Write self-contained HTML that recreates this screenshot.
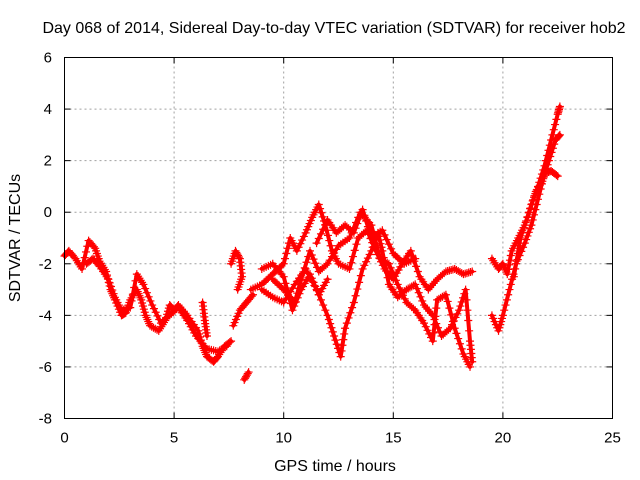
<!DOCTYPE html>
<html><head><meta charset="utf-8"><style>
body{margin:0;background:#fff}
svg{display:block;font-family:"Liberation Sans","DejaVu Sans",sans-serif}
</style></head><body>
<svg id="chart" width="640" height="480" viewBox="0 0 640 480">
<rect x="0" y="0" width="640" height="480" fill="#fff"/>
<text x="334" y="33" font-size="16" text-anchor="middle">Day 068 of 2014, Sidereal Day-to-day VTEC variation (SDTVAR) for receiver hob2</text>
<text x="335" y="471" font-size="16" text-anchor="middle">GPS time / hours</text>
<text transform="translate(20,238) rotate(-90)" font-size="16" text-anchor="middle">SDTVAR / TECUs</text>
<g id="grid"></g><g id="ticks"></g><g id="marks"></g>
<rect x="64.5" y="57.5" width="548" height="361" fill="none" stroke="#000" stroke-width="1"/>
</svg>
<script>
const xTicks=[0,5,10,15,20,25];
const yTicks=[-8,-6,-4,-2,0,2,4,6];
const segT=[
[0,0.2,0.5,0.8,1.1,1.4,1.6,1.9,2.1,2.3,2.6,2.8,3.0,3.3,3.5,3.7,3.9,4.3,4.6,4.8,5.0,5.2,5.6,6.1,6.3,6.5,6.8,7.0,7.3,7.6],
[1.0,1.3,1.6,2.0,2.3,2.6,3.0,3.3,3.6,4.0,4.4,4.8,5.2,5.6,6.0,6.5,7.0,7.4],
[6.3,6.4,6.5],
[7.6,7.8,8.0,8.1,7.9],
[8.2,8.4],
[7.7,8.0,8.3,8.6],
[8.5,9,9.5,10,10.3,10.6,11,11.3,11.6,11.9,12.2,12.5,13,13.4,13.8,14.2,14.6,15,15.4,15.8,16.2,16.6,17,17.4,17.8,18.2,18.6],
[9,9.5,10,10.5,11,11.5,12,12.3,12.6,12.8,13.2,13.6,14,14.3,14.5,14.8,15.2,15.6,16,16.4,16.8,17.2,17.6,18,18.3,18.5,18.6],
[9.5,10,10.5,10.8,11.2,11.6,12,12.5,13,13.5,14,14.4,14.8,15.2,15.6,16,16.4,16.8,17,17.4,17.8,18.2,18.5],
[11.5,12,12.4,12.8,13.2,13.6,14,14.5,15,15.5,16],
[9,9.5,10,10.4,10.8,11.2,11.6,12],
[19.5,19.8,20,20.2,20.4,20.7,21,21.3,21.6,21.9,22.2,22.5,22.6],
[19.5,19.8,20.0,20.3,20.6,21,21.3,21.6,21.9,22.2,22.5],
[20.5,20.8,21.2,21.5,21.8,22.1,22.4,22.6]
];
const segV=[
[-1.7,-1.5,-1.8,-2.2,-1.1,-1.4,-1.9,-2.3,-3.0,-3.4,-4.0,-3.9,-3.4,-3.0,-3.4,-4.0,-4.4,-4.6,-4.2,-3.6,-3.8,-3.6,-4.0,-4.6,-5.2,-5.6,-5.8,-5.6,-5.2,-5.0],
[-2.0,-1.8,-2.1,-2.6,-3.3,-3.8,-3.7,-2.4,-2.8,-3.6,-4.3,-4.0,-3.7,-4.2,-4.8,-5.3,-5.4,-5.2],
[-3.5,-4.2,-4.8],
[-2.0,-1.5,-1.8,-2.5,-3.0],
[-6.5,-6.2],
[-4.4,-3.8,-3.5,-3.2],
[-3.0,-2.8,-2.4,-2.0,-1.0,-1.5,-0.8,-0.2,0.3,-0.5,-1.5,-2.0,-2.2,-1.0,-0.7,-1.5,-2.2,-2.6,-2.0,-1.5,-2.5,-3.0,-2.6,-2.3,-2.2,-2.4,-2.3],
[-3.0,-3.3,-3.5,-2.8,-2.2,-3.0,-4.0,-4.8,-5.6,-4.5,-3.5,-2.2,-1.5,-0.8,-1.5,-2.8,-3.3,-3.0,-2.8,-3.6,-4.0,-4.8,-4.5,-3.8,-3.0,-5.0,-5.8],
[-2.6,-3.0,-3.5,-2.6,-1.5,-2.3,-2.0,-1.3,-1.0,0.0,-0.5,-1.8,-2.0,-2.8,-3.5,-3.8,-4.3,-5.0,-3.4,-3.2,-4.5,-5.5,-6.0],
[-1.2,-0.3,-0.8,-0.5,-0.8,0.1,-1.0,-0.7,-1.6,-2.0,-1.8],
[-2.2,-2.0,-2.5,-3.8,-3.0,-2.4,-3.2,-2.6],
[-1.8,-2.2,-2.0,-2.4,-1.5,-1.0,-0.5,0.3,1.0,1.8,2.8,3.8,4.1],
[-4.0,-4.6,-4.0,-3.0,-2.0,-1.2,-0.5,0.5,1.5,1.6,1.4],
[-2.5,-1.0,0.0,0.8,1.2,2.0,2.8,3.0]
];
const X0=64.5,X1=612.5,Y0=418.5,Y1=57.5;
const xs=t=>X0+(t-0)/(25-0)*(X1-X0);
const ys=v=>Y0-(v+8)/(14)*(Y0-Y1);
const NS="http://www.w3.org/2000/svg";
const grid=document.getElementById('grid'),ticks=document.getElementById('ticks'),marks=document.getElementById('marks');
function mk(tag,attrs,parent){const e=document.createElementNS(NS,tag);for(const k in attrs)e.setAttribute(k,attrs[k]);parent.appendChild(e);return e;}
xTicks.forEach(t=>{
 const x=xs(t);
 if(t>0&&t<25){const g=mk('line',{x1:x,x2:x,y1:Y0,y2:Y1,stroke:'#a0a0a0','stroke-dasharray':'2,3','stroke-width':1},grid);
 
 }
 mk('line',{x1:x,x2:x,y1:Y0,y2:Y0-6,stroke:'#000'},ticks);
 mk('line',{x1:x,x2:x,y1:Y1,y2:Y1+6,stroke:'#000'},ticks);
 const l=mk('text',{x:x,y:Y0+24,'font-size':15,'text-anchor':'middle'},ticks);l.textContent=t;
 
 
});
yTicks.forEach(v=>{
 const y=ys(v);
 if(v>-8&&v<6){const g=mk('line',{x1:X0,x2:X1,y1:y,y2:y,stroke:'#a0a0a0','stroke-dasharray':'2,3','stroke-width':1},grid);
 
 }
 mk('line',{x1:X0,x2:X0+6,y1:y,y2:y,stroke:'#000'},ticks);
 mk('line',{x1:X1,x2:X1-6,y1:y,y2:y,stroke:'#000'},ticks);
 const l=mk('text',{x:52,y:y+5,'font-size':15,'text-anchor':'end'},ticks);l.textContent=v;
 
 
});
segT.forEach((ts,i)=>{
 const vs=segV[i];
 const g=mk('g',{},marks);
 
 
 let d='';
 ts.forEach((t,j)=>{d+=(j?'L':'M')+xs(t).toFixed(1)+','+ys(vs[j]).toFixed(1);});
 if(ts.length>1)mk('path',{d:d,fill:'none',stroke:'#f00','stroke-width':4,'stroke-linejoin':'round','stroke-linecap':'round'},g);
 for(let j=0;j<ts.length;j++){
  const steps=(j<ts.length-1)?5:1;
  for(let s=0;s<steps;s++){
   const f=s/steps;
   const t=(j<ts.length-1)?ts[j]+(ts[j+1]-ts[j])*f:ts[j];
   const v=(j<ts.length-1)?vs[j]+(vs[j+1]-vs[j])*f:vs[j];
   const x=xs(t),y=ys(v);
   mk('path',{d:`M${x-4},${y}H${x+4}M${x},${y-4}V${y+4}`,stroke:'#f00','stroke-width':1.2},g);
  }
 }
});
</script>
</body></html>
